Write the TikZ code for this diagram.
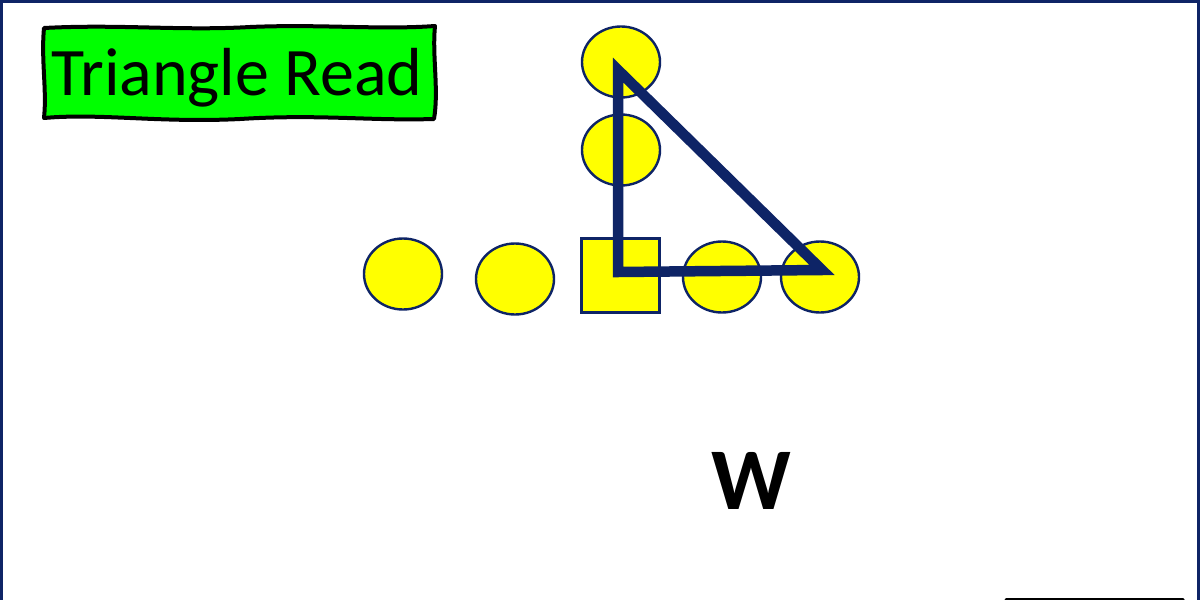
\documentclass[tikz,border=0pt]{standalone}
\usepackage{fontspec}
\setmainfont{Carlito}
\usetikzlibrary{shapes.geometric}
\definecolor{navy}{HTML}{0E2466}
\definecolor{brightgreen}{HTML}{00FF00}
\definecolor{ylw}{HTML}{FFFF00}
\tikzset{
  player/.style={ellipse, minimum width=78pt, minimum height=71pt, fill=ylw, draw=navy, line width=2.4pt, inner sep=0pt},
  center/.style={rectangle, minimum width=78pt, minimum height=74pt, fill=ylw, draw=navy, line width=2.4pt, inner sep=0pt},
  readline/.style={draw=navy, line width=10.5pt, line join=miter},
  framebar/.style={draw=navy, line width=6pt},
  titlebox/.style={fill=brightgreen, draw=black, line width=4pt, line join=round},
}
\begin{document}
\begin{tikzpicture}[x=1pt,y=-1pt]
\useasboundingbox (0,0) rectangle (1200,600);
\fill[white] (0,0) rectangle (1200,600);
% frame
\draw[framebar] (0,600) -- (0,0) -- (1200,0) -- (1200,600);
% title box (hand-drawn look)
\draw[titlebox]
  (44,28) .. controls (120,24) and (180,31) .. (250,27)
          .. controls (320,24) and (380,30) .. (435,26)
          .. controls (432,55) and (439,90) .. (434,119)
          .. controls (370,121) and (320,114) .. (240,119)
          .. controls (160,123) and (100,113) .. (44,118)
          .. controls (47,90) and (41,60) .. cycle;
\node[font=\fontsize{68}{70}\selectfont, inner sep=0pt] (title) at (237,78) {Triangle Read};
% players
\node[player] (p1) at (403,274) {};
\node[player] (p2) at (515,279) {};
\node[center] (c) at (620.5,275.5) {};
\node[player] (p4) at (722,277) {};
\node[player] (p5) at (820,277) {};
\node[player] (q1) at (621,150) {};
\node[player] (q2) at (621,62) {};
% triangle
\coordinate (ta) at (618,70);
\coordinate (tb) at (618,272);
\coordinate (tc) at (822,270);
\draw[readline] (ta) -- (tb) -- (tc) -- cycle;
% W
\node[font=\bfseries\fontsize{88}{90}\selectfont, inner sep=0pt] (w) at (751,481) {W};
% bottom right partial box edge
\coordinate (b1) at (1006,599);
\coordinate (b2) at (1183,599);
\draw[line width=3pt, line cap=round] (b1) -- (b2);
\end{tikzpicture}
\end{document}
